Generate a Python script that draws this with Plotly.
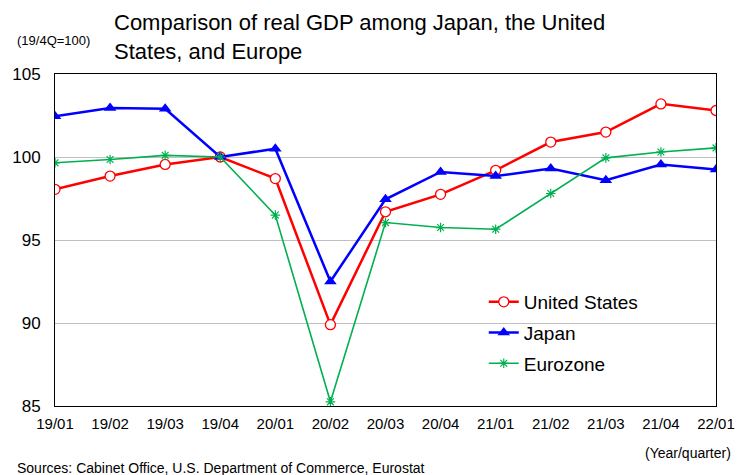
import plotly.graph_objects as go

quarters = ["19/01", "19/02", "19/03", "19/04", "20/01", "20/02", "20/03",
            "20/04", "21/01", "21/02", "21/03", "21/04", "22/01"]
us = [98.05, 98.85, 99.55, 100.0, 98.7, 89.9, 96.7, 97.75, 99.2, 100.9, 101.5, 103.2, 102.8]
japan = [102.45, 102.95, 102.9, 100.0, 100.5, 92.5, 97.45, 99.1, 98.85, 99.3, 98.6, 99.55, 99.25]
euro = [99.65, 99.85, 100.1, 100.0, 96.5, 85.25, 96.05, 95.75, 95.65, 97.8, 99.95, 100.3, 100.55]
y_ticks = [85, 90, 95, 100, 105]

FONT = "Liberation Sans, Arial, sans-serif"
x_idx = list(range(len(quarters)))

# plot area in pixels
L, T, R, B = 53, 74, 719, 406
W, H = 747, 475
PW, PH = R - L, B - T


def px(x):
    return (x - L) / PW


def py(y):
    return (B - y) / PH


fig = go.Figure()
fig.add_trace(go.Scatter(
    x=x_idx, y=us, name="United States", mode="lines+markers", legendgroup="a",
    line=dict(color="#ff0000", width=2.5),
    marker=dict(symbol="circle", size=10, color="white", line=dict(color="#ff0000", width=1.3)),
))
fig.add_trace(go.Scatter(
    x=x_idx, y=japan, name="Japan", mode="lines+markers", legendgroup="b",
    line=dict(color="#0000ff", width=2.5),
    marker=dict(symbol="triangle-up", size=11, color="#0000ff"),
))
fig.add_trace(go.Scatter(
    x=x_idx, y=euro, name="Eurozone", mode="lines+markers", legendgroup="c",
    line=dict(color="#00b050", width=1.6),
    marker=dict(symbol="asterisk", size=8, color="#00b050", line=dict(color="#00b050", width=1.2)),
))

fig.update_layout(
    width=W, height=H,
    margin=dict(l=L, r=W - R, t=T, b=H - B),
    paper_bgcolor="white", plot_bgcolor="white",
    font=dict(family=FONT, color="black"),
    showlegend=True,
    legend=dict(x=px(485), y=py(283), xanchor="left", yanchor="top",
                font=dict(size=19, family=FONT), bgcolor="rgba(0,0,0,0)",
                tracegroupgap=3, itemwidth=30),
    xaxis=dict(
        range=[0, len(quarters) - 1], tickmode="array", tickvals=x_idx, ticktext=quarters,
        showgrid=False, showline=True, linecolor="black", linewidth=1, mirror=True,
        ticks="", tickfont=dict(size=15, family=FONT), zeroline=False,
        ticklabelstandoff=4,
    ),
    yaxis=dict(
        range=[85, 105], tickmode="array", tickvals=y_ticks,
        showgrid=True, gridcolor="#c0c0c0", gridwidth=1,
        showline=True, linecolor="black", linewidth=1, mirror=True,
        ticks="", tickfont=dict(size=17, family=FONT), zeroline=False,
        ticklabelstandoff=10,
    ),
    annotations=[
        dict(text="Comparison of real GDP among Japan, the United<br>States, and Europe",
             xref="paper", yref="paper", x=px(110), y=py(8),
             xanchor="left", yanchor="top", align="left", showarrow=False,
             font=dict(size=22, family=FONT)),
        dict(text="(19/4Q=100)", xref="paper", yref="paper",
             x=px(13), y=py(40), xanchor="left", yanchor="middle",
             showarrow=False, font=dict(size=13, family=FONT)),
        dict(text="(Year/quarter)", xref="paper", yref="paper",
             x=px(736), y=py(453), xanchor="right", yanchor="middle",
             showarrow=False, font=dict(size=14, family=FONT)),
        dict(text="Sources: Cabinet Office, U.S. Department of Commerce, Eurostat",
             xref="paper", yref="paper", x=px(13), y=py(468),
             xanchor="left", yanchor="middle", showarrow=False,
             font=dict(size=14, family=FONT)),
    ],
)

fig.write_html("out.html", config={"displayModeBar": False},
               post_script="document.body.style.margin='0';")
